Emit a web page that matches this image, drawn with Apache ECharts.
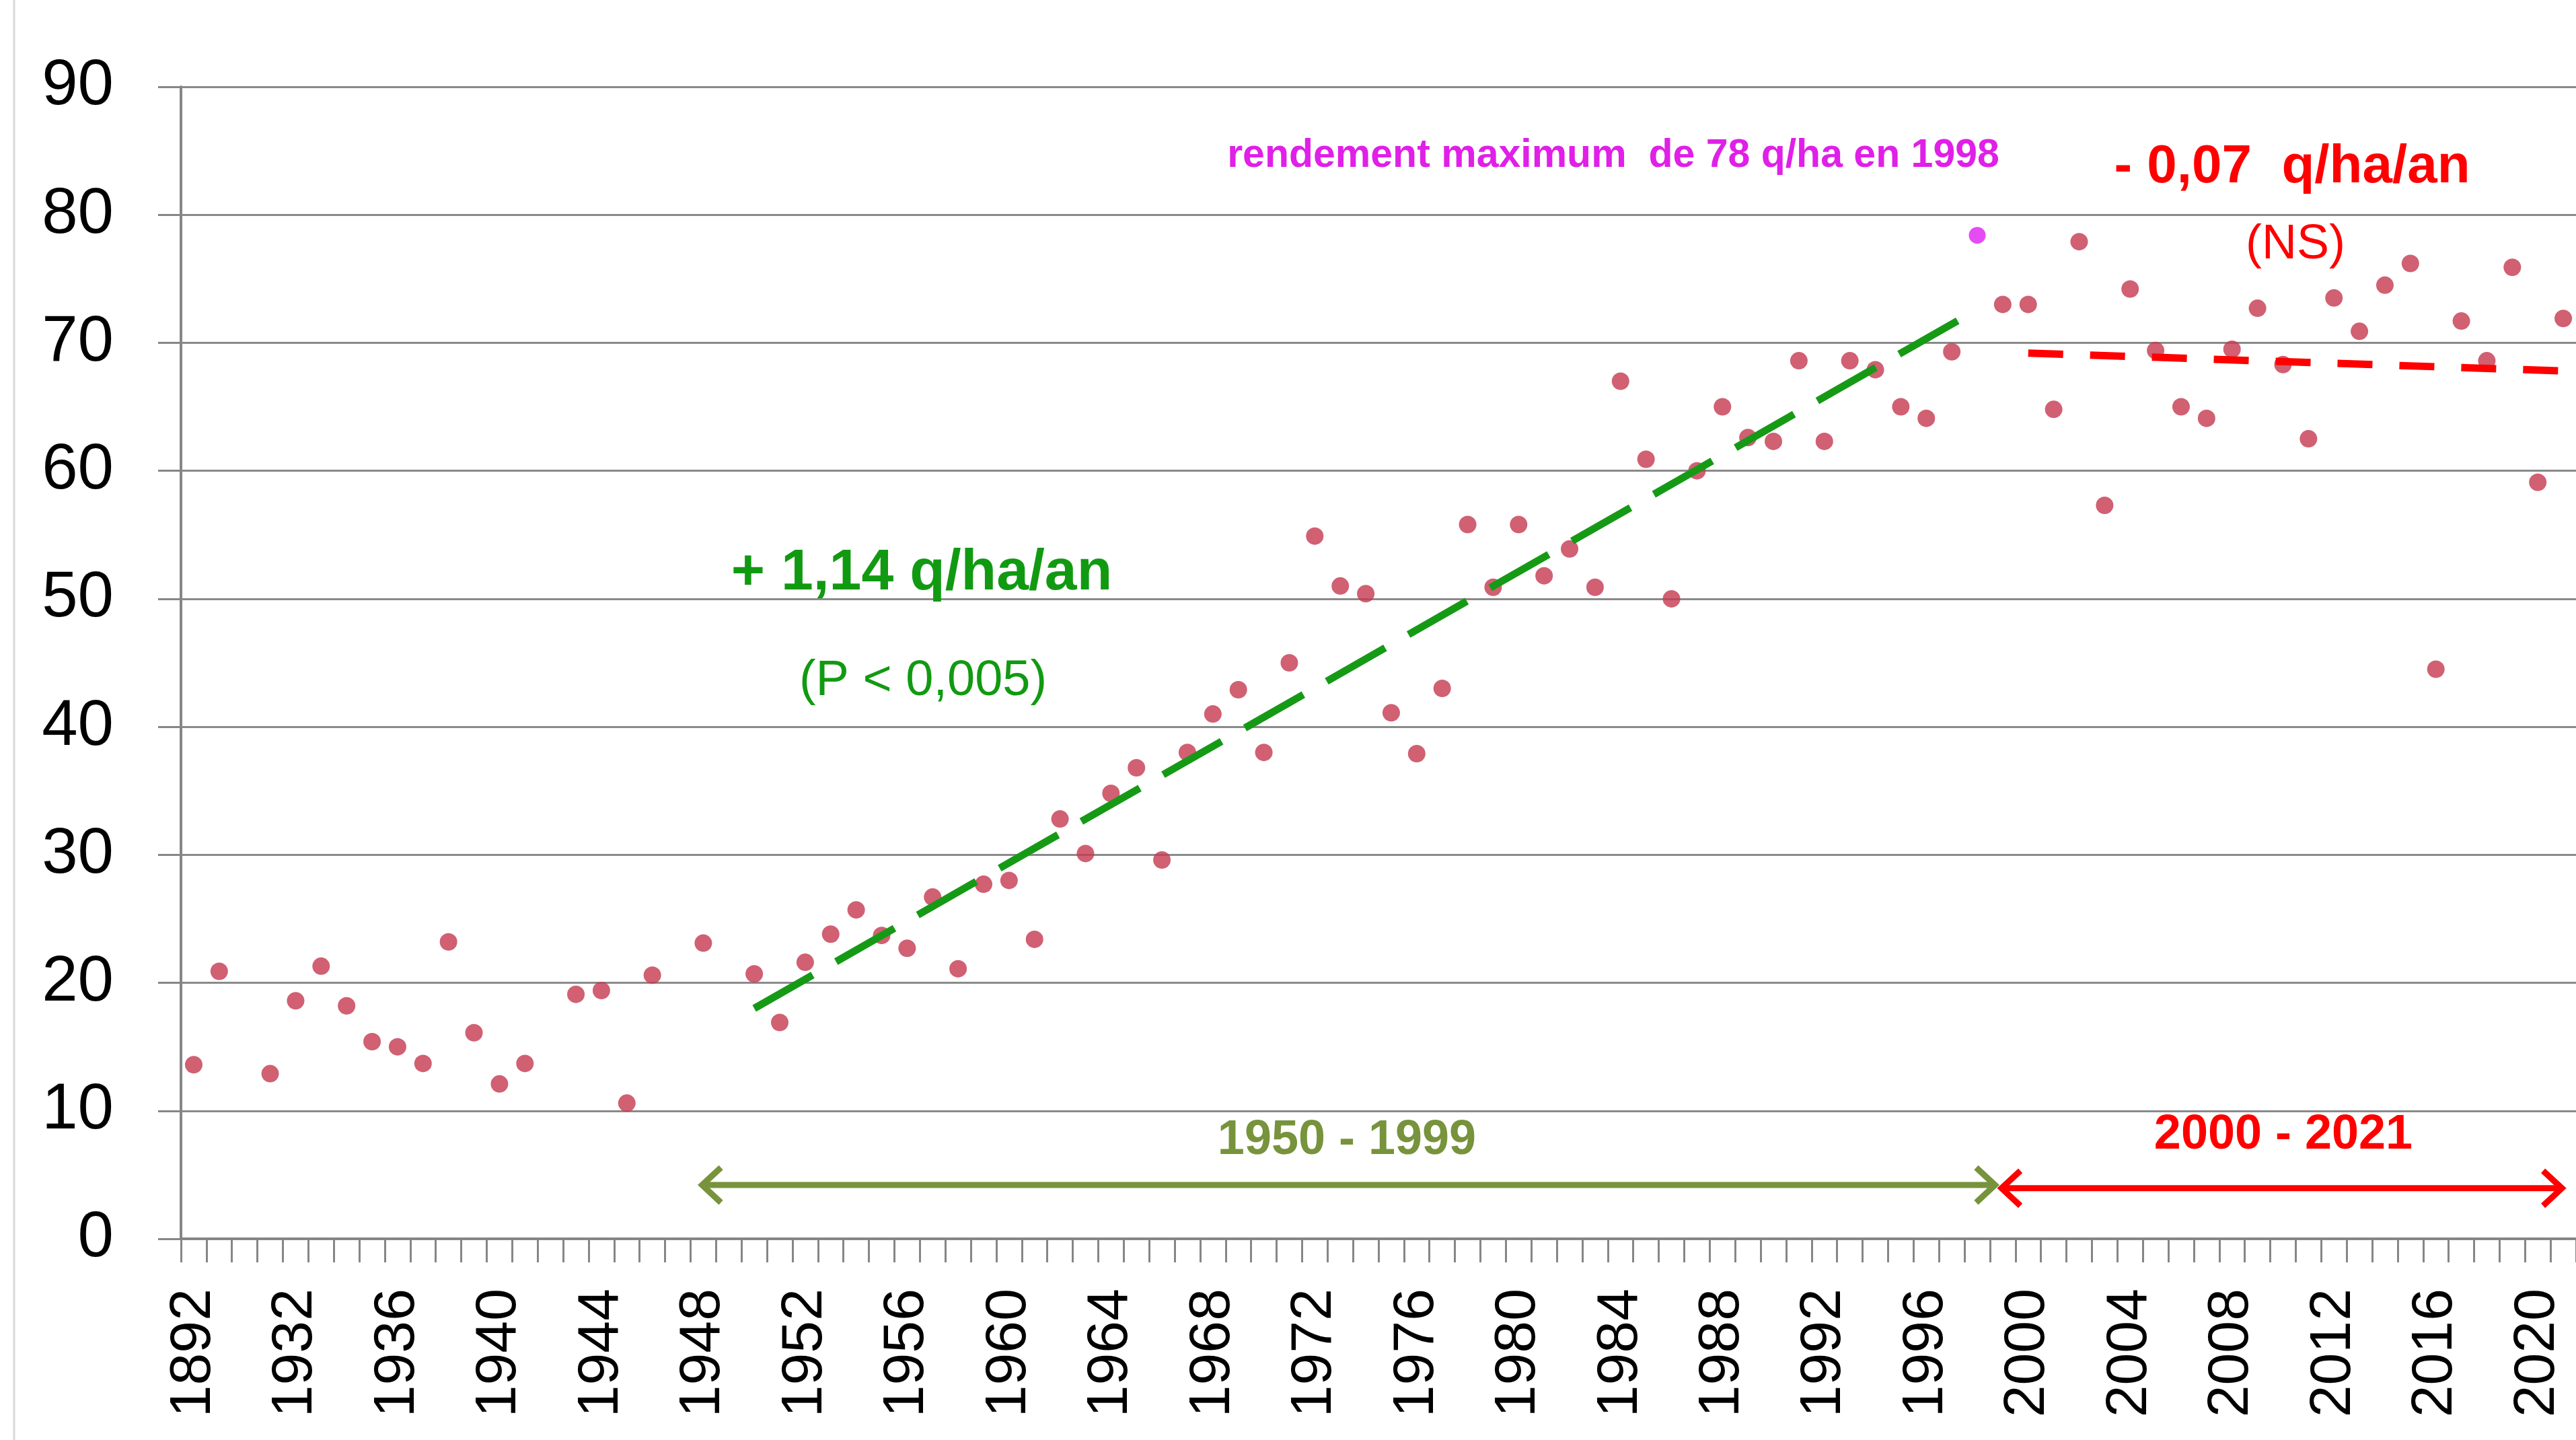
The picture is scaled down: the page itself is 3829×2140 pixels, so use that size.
<!DOCTYPE html>
<html><head><meta charset="utf-8">
<script src="https://cdn.jsdelivr.net/npm/echarts@6/dist/echarts.min.js"></script>
<style>html,body{margin:0;padding:0;background:#fff}#c{width:3829px;height:2140px}</style>
</head><body><div id="c"></div>
<script>
// ---- data ----
const years = ['1892','1929','1930','1931',
 '1932','1933','1934','1935','1936','1937','1938','1939','1940','1941','1942','1943','1944','1945','1946','1947','1948','1949',
 '1950','1951','1952','1953','1954','1955','1956','1957','1958','1959','1960','1961','1962','1963','1964','1965','1966','1967',
 '1968','1969','1970','1971','1972','1973','1974','1975','1976','1977','1978','1979','1980','1981','1982','1983','1984','1985',
 '1986','1987','1988','1989','1990','1991','1992','1993','1994','1995','1996','1997','1998','1999','2000','2001','2002','2003',
 '2004','2005','2006','2007','2008','2009','2010','2011','2012','2013','2014','2015','2016','2017','2018','2019','2020','2021'];
const yields = [13.6,20.9,null,12.9,
 18.6,21.3,18.2,15.4,15.0,13.7,23.2,16.1,12.1,13.7,null,19.1,19.4,10.6,20.6,null,23.1,null,
 20.7,16.9,21.6,23.8,25.7,23.7,22.7,26.7,21.1,27.7,28.0,23.4,32.8,30.1,34.8,36.8,29.6,38.0,
 41.0,42.9,38.0,45.0,54.9,51.0,50.4,41.1,37.9,43.0,55.8,50.9,55.8,51.8,53.9,50.9,67.0,60.9,
 50.0,60.0,65.0,62.6,62.3,68.6,62.3,68.6,67.9,65.0,64.1,69.3,78.4,73.0,73.0,64.8,77.9,57.3,
 74.2,69.4,65.0,64.1,69.5,72.7,68.3,62.5,73.5,70.9,74.5,76.2,44.5,71.7,68.6,75.9,59.1,71.9];
const maxYear = '1998';
const trend1 = [['1950',18.0],['1998',72.6]];   // + 1,14 q/ha/an
const trend2 = [['2000',69.2],['2021',67.8]];   // - 0,07 q/ha/an
const yTicks = [0,10,20,30,40,50,60,70,80,90];
const periods = ['1950 - 1999','2000 - 2021'];

const FONT = 'Liberation Sans, Arial, sans-serif';
const chart = echarts.init(document.getElementById('c'), null, {renderer:'canvas'});

const scatterData = yields.map((v,i)=> v==null ? '-' : (years[i]===maxYear ? {value:v, symbolSize:25, itemStyle:{color:'#E01FF0'}} : v));

chart.setOption({
  animation:false,
  backgroundColor:'#fff',
  grid:{left:269, width:3569, top:129, bottom:299, containLabel:false},
  xAxis:{type:'category', data:years, boundaryGap:true,
    axisLine:{lineStyle:{color:'#868686', width:4}},
    axisTick:{show:true, interval:0, length:35, lineStyle:{color:'#868686', width:3}},
    axisLabel:{interval:3, rotate:90, fontSize:86, color:'#000', margin:74, fontFamily:FONT},
    splitLine:{show:false}},
  yAxis:{type:'value', min:yTicks[0], max:yTicks[yTicks.length-1], interval:10,
    axisLine:{show:true, lineStyle:{color:'#868686', width:4}},
    axisTick:{show:true, length:34, lineStyle:{color:'#868686', width:3}},
    axisLabel:{fontSize:96, color:'#000', margin:100, fontFamily:FONT},
    splitLine:{lineStyle:{color:'#8a8a8a', width:3}}},
  series:[
    {type:'scatter', data:scatterData, symbol:'circle', symbolSize:26,
      itemStyle:{color:'#C4384F'}, z:3},
    {type:'line', data:trend1, symbol:'none', z:4,
      lineStyle:{color:'#169A16', width:11, type:[100,40], cap:'butt'}},
    {type:'line', data:trend2, symbol:'none', z:4,
      lineStyle:{color:'#FF0000', width:11, type:[52,40], cap:'butt'}}
  ]
});

function pix(pos, val){
  const i0 = Math.floor(pos), f = pos - i0;
  const a = chart.convertToPixel({gridIndex:0}, [i0, val]);
  const b = chart.convertToPixel({gridIndex:0}, [i0+1, val]);
  return [a[0] + (b[0]-a[0])*f, a[1]];
}
function arrow(from, to, val, color){
  const p1 = pix(from, val), p2 = pix(to, val);
  const ax = 30, ay = 26, lw = 9;
  return [
    {type:'line', shape:{x1:p1[0]+2, y1:p1[1], x2:p2[0]-2, y2:p2[1]}, style:{stroke:color, lineWidth:lw}, z:10},
    {type:'polyline', shape:{points:[[p1[0]+ax,p1[1]-ay],[p1[0]+2,p1[1]],[p1[0]+ax,p1[1]+ay]]}, style:{stroke:color, lineWidth:lw, fill:null, lineJoin:'miter'}, z:10},
    {type:'polyline', shape:{points:[[p2[0]-ax,p2[1]-ay],[p2[0]-2,p2[1]],[p2[0]-ax,p2[1]+ay]]}, style:{stroke:color, lineWidth:lw, fill:null, lineJoin:'miter'}, z:10}
  ];
}
function txt(x, y, s, size, color, bold){
  return {type:'text', x:x, y:y, z:10, style:{text:s, fontSize:size, fontWeight:bold?'bold':'normal',
    fontFamily:FONT, fill:color, textAlign:'center', textVerticalAlign:'middle'}};
}
const g = [];
g.push({type:'line', shape:{x1:21, y1:0, x2:21, y2:2140}, style:{stroke:'#d9d9d9', lineWidth:3}});
g.push(...arrow(19.9, 70.75, 4.2, '#77933C'));
g.push(...arrow(70.9, 93.0, 3.95, '#FF0000'));
g.push(txt(2398, 232, 'rendement maximum  de 78 q/ha en 1998', 59, '#E01FE8', true));
g.push(txt(3407, 249, '- 0,07  q/ha/an', 80, '#FF0000', true));
g.push(txt(3412, 364, '(NS)', 72, '#FF0000', false));
g.push(txt(1370, 852, '+ 1,14 q/ha/an', 86, '#119A11', true));
g.push(txt(1372, 1013, '(P < 0,005)', 74, '#119A11', false));
g.push(txt(2002, 1695, periods[0], 72, '#77933C', true));
g.push(txt(3394, 1687, periods[1], 72, '#FF0000', true));
chart.setOption({graphic:g});
</script>
</body></html>
